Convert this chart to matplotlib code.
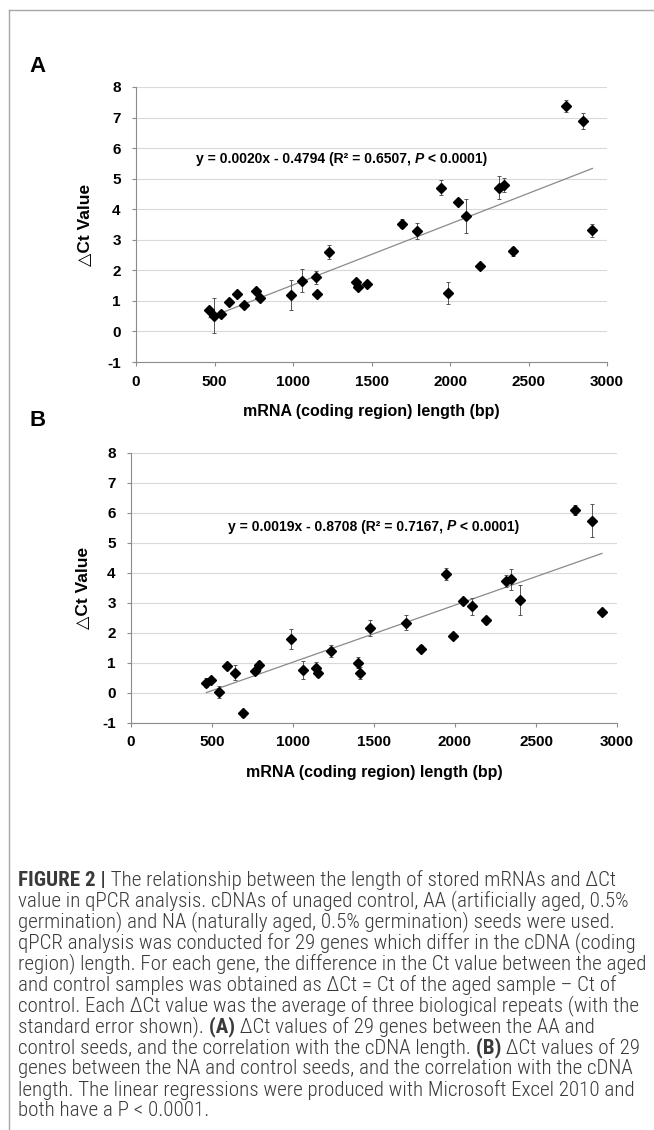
import numpy as np
import matplotlib
matplotlib.use('Agg')
import matplotlib.pyplot as plt
from matplotlib.lines import Line2D
from matplotlib import font_manager as fm

plt.rcParams['font.family'] = ['Liberation Sans', 'DejaVu Sans']
plt.rcParams['axes.unicode_minus'] = False

# data (same 29 genes in both panels)
length_bp = [465, 494, 544, 592, 643, 690, 767, 791, 985, 1059, 1144, 1152, 1232, 1402, 1412,
             1473, 1697, 1792, 1943, 1986, 2050, 2103, 2190, 2315, 2345, 2403, 2740, 2844, 2907]

dct_aa = [0.71, 0.52, 0.57, 0.98, 1.23, 0.85, 1.34, 1.10, 1.20, 1.66, 1.77, 1.22, 2.60, 1.63, 1.45,
          1.56, 3.53, 3.29, 4.70, 1.26, 4.23, 3.78, 2.15, 4.71, 4.80, 2.63, 7.38, 6.89, 3.31]
err_aa = [0.08, 0.57, 0.07, 0.08, 0.08, 0.07, 0.08, 0.08, 0.50, 0.38, 0.22, 0.10, 0.22, 0.08, 0.10,
          0.08, 0.15, 0.25, 0.25, 0.35, 0.08, 0.57, 0.10, 0.38, 0.22, 0.15, 0.20, 0.25, 0.22]

dct_na = [0.35, 0.43, 0.05, 0.90, 0.67, -0.67, 0.75, 0.92, 1.81, 0.78, 0.83, 0.67, 1.40, 1.01, 0.68,
          2.18, 2.34, 1.48, 3.98, 1.90, 3.07, 2.89, 2.42, 3.75, 3.79, 3.10, 6.10, 5.75, 2.69]
err_na = [0.16, 0.08, 0.20, 0.07, 0.25, 0.12, 0.09, 0.14, 0.33, 0.30, 0.19, 0.15, 0.20, 0.19, 0.20,
          0.27, 0.25, 0.12, 0.20, 0.08, 0.10, 0.28, 0.12, 0.20, 0.35, 0.50, 0.18, 0.55, 0.10]

# regression lines as printed on the chart
fit_aa = (0.0020, -0.4794, '0.6507')
fit_na = (0.0019, -0.8708, '0.7167')

x_ticks = [0, 500, 1000, 1500, 2000, 2500, 3000]
y_ticks = [-1, 0, 1, 2, 3, 4, 5, 6, 7, 8]

W, H = 654, 1130
fig = plt.figure(figsize=(W / 100, H / 100), dpi=100)
renderer = fig.canvas.get_renderer()


def fx(px):
    return px / W


def fy(py):
    return 1 - py / H


def pick_font(weight):
    # narrow face for the caption if one is installed, plain Liberation Sans otherwise
    for fam in ['Roboto Condensed', 'Liberation Sans Narrow']:
        try:
            path = fm.findfont(fm.FontProperties(family=fam, weight=weight), fallback_to_default=False)
            return fm.FontProperties(fname=path)
        except Exception:
            pass
    path = fm.findfont(fm.FontProperties(family='Noto Sans', stretch='condensed', weight=weight))
    if 'ondensed' in path:
        return fm.FontProperties(fname=path)
    return fm.FontProperties(family='Liberation Sans', weight='bold' if weight == 'bold' else 'normal')


def text_width(text, **kw):
    t = fig.text(0, 0, text, **kw)
    w = t.get_window_extent(renderer).width
    t.remove()
    return w


def style_ax(ax):
    ax.set_xlim(0, 3000)
    ax.set_ylim(-1, 8)
    ax.set_xticks(x_ticks)
    ax.set_yticks(y_ticks)
    ax.grid(axis='y', color='#d9d9d9', lw=0.8)
    ax.set_axisbelow(True)
    for s in ['top', 'right']:
        ax.spines[s].set_visible(False)
    for s in ['left', 'bottom']:
        ax.spines[s].set_color('#8c8c8c')
        ax.spines[s].set_linewidth(0.8)
    ax.tick_params(axis='both', colors='#8c8c8c', length=3, width=0.8, direction='out')
    ax.tick_params(axis='y', pad=8, labelcolor='black', labelsize=11)
    ax.tick_params(axis='x', pad=6, labelcolor='black', labelsize=11)
    for lab in ax.get_xticklabels() + ax.get_yticklabels():
        lab.set_fontweight('bold')
    ax.set_xlabel('mRNA (coding region) length (bp)', fontsize=11.5, fontweight='bold', labelpad=11)
    ax.set_ylabel('\u25b3Ct Value', fontsize=12.5, fontweight='bold')


def draw_panel(ax, y, err, fit, eq_x, eq_y, label_x):
    style_ax(ax)
    ax.errorbar(length_bp, y, yerr=err, fmt='none', ecolor='#555555', elinewidth=0.7,
                capsize=1.5, capthick=0.7, zorder=3)
    ax.plot(length_bp, y, linestyle='none', marker='D', ms=4.8, color='black', zorder=4)
    xs = np.array([min(length_bp), max(length_bp)])
    ax.plot(xs, fit[0] * xs + fit[1], color='#8a8a8a', lw=0.9, zorder=2)
    ax.yaxis.set_label_coords(label_x, 0.5)
    eq = 'y = %.4fx - %.4f (R\u00b2 = %s, P < 0.0001)' % (fit[0], -fit[1], fit[2])
    size = 10 * 291 / text_width(eq, fontsize=10, fontweight='bold')
    t = ax.text(eq_x, eq_y, 'y = %.4fx - %.4f (R\u00b2 = %s, ' % (fit[0], -fit[1], fit[2]),
                fontsize=size, fontweight='bold', ha='left', va='center')
    t = ax.annotate('P', xy=(1, 0), xycoords=t, ha='left', va='bottom', fontsize=size,
                    fontweight='bold', fontstyle='italic')
    ax.annotate(' < 0.0001)', xy=(1, 0), xycoords=t, ha='left', va='bottom', fontsize=size,
                fontweight='bold')


axA = fig.add_axes([fx(136), fy(362), fx(471), 275 / H])
axB = fig.add_axes([fx(131), fy(723), fx(486), 270 / H])

draw_panel(axA, dct_aa, err_aa, fit_aa, 380, 5.64, -0.091)
draw_panel(axB, dct_na, err_na, fit_na, 599, 5.55, -0.082)

fig.text(fx(38), fy(67), 'A', fontsize=16, fontweight='bold', ha='center', va='center')
fig.text(fx(38), fy(421), 'B', fontsize=16, fontweight='bold', ha='center', va='center')

# frame lines around the figure
fig.add_artist(Line2D([fx(9), 1], [fy(10), fy(10)], color='#a6a6a6', lw=1))
fig.add_artist(Line2D([fx(9), fx(9)], [fy(10), 0], color='#a6a6a6', lw=1))

# caption
cap_regular = pick_font('light')
cap_bold = pick_font('bold')
N, B = 'n', 'b'
caption = [
    [('FIGURE 2 |', B), (' The relationship between the length of stored mRNAs and \u0394Ct', N)],
    [('value in qPCR analysis. cDNAs of unaged control, AA (artificially aged, 0.5%', N)],
    [('germination) and NA (naturally aged, 0.5% germination) seeds were used.', N)],
    [('qPCR analysis was conducted for 29 genes which differ in the cDNA (coding', N)],
    [('region) length. For each gene, the difference in the Ct value between the aged', N)],
    [('and control samples was obtained as \u0394Ct = Ct of the aged sample \u2013 Ct of', N)],
    [('control. Each \u0394Ct value was the average of three biological repeats (with the', N)],
    [('standard error shown).', N), (' (A)', B), (' \u0394Ct values of 29 genes between the AA and', N)],
    [('control seeds, and the correlation with the cDNA length.', N), (' (B)', B),
     (' \u0394Ct values of 29', N)],
    [('genes between the NA and control seeds, and the correlation with the cDNA', N)],
    [('length. The linear regressions were produced with Microsoft Excel 2010 and', N)],
    [('both have a P < 0.0001.', N)],
]
cap_size = 10 * 626 / text_width(caption[4][0][0], fontsize=10, fontproperties=cap_regular)
for i, line in enumerate(caption):
    yc = 880 + i * 21
    prev = None
    for txt, w in line:
        fp = (cap_bold if w == B else cap_regular).copy()
        fp.set_size(cap_size)
        if prev is None:
            prev = fig.text(fx(18), fy(yc), txt, fontproperties=fp, color='#3a3a3a',
                            ha='left', va='center')
        else:
            prev = axA.annotate(txt, xy=(1, 0), xycoords=prev, ha='left', va='bottom',
                                fontproperties=fp, color='#3a3a3a', annotation_clip=False)

fig.savefig('out.png', dpi=100)
